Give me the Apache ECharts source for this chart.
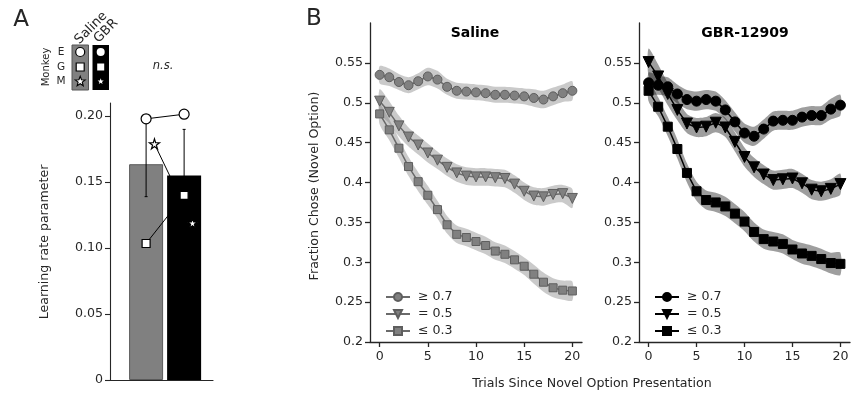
<!DOCTYPE html>
<html>
<head>
<meta charset="utf-8">
<script src="https://cdn.jsdelivr.net/npm/echarts@6.0.0/dist/echarts.min.js"></script>
<style>
  html, body { margin: 0; padding: 0; background: #fff; }
  #main { width: 851px; height: 397px; }
</style>
</head>
<body>
<div id="main"></div>
<script>
// panel A: learning rate per condition
const conditions = ['Saline', 'GBR']
const barMeans = [0.1636, 0.155]
const barErrLow = [0.139, 0.12]
const barErrHigh = [0.197, 0.19]
const monkeyE = [0.198, 0.2015]
const monkeyG = [0.1035, 0.140]
const monkeyM = [0.179, 0.119]
const aTicks = [0, 0.05, 0.10, 0.15, 0.20]

// panel B: fraction chose novel option
const trials = [0, 1, 2, 3, 4, 5, 6, 7, 8, 9, 10, 11, 12, 13, 14, 15, 16, 17, 18, 19, 20]
const bTicksX = [0, 5, 10, 15, 20]
const bTicksY = [0.2, 0.25, 0.3, 0.35, 0.4, 0.45, 0.5, 0.55]
const groupNames = ['≥ 0.7', '= 0.5', '≤ 0.3']

const salHigh = [0.535, 0.532, 0.526, 0.522, 0.527, 0.533, 0.529, 0.520, 0.515, 0.514, 0.513, 0.512, 0.510, 0.510, 0.509, 0.508, 0.506, 0.504, 0.508, 0.512, 0.515]
const salMid = [0.502, 0.488, 0.471, 0.457, 0.447, 0.437, 0.428, 0.419, 0.412, 0.408, 0.407, 0.407, 0.406, 0.405, 0.398, 0.389, 0.383, 0.382, 0.385, 0.386, 0.380]
const salLow = [0.486, 0.466, 0.443, 0.420, 0.401, 0.384, 0.366, 0.347, 0.335, 0.331, 0.326, 0.321, 0.314, 0.310, 0.303, 0.295, 0.285, 0.275, 0.268, 0.265, 0.264]
const salHighErr = [0.011, 0.011, 0.010, 0.010, 0.010, 0.011, 0.011, 0.010, 0.010, 0.010, 0.010, 0.010, 0.010, 0.010, 0.010, 0.010, 0.011, 0.011, 0.011, 0.011, 0.012]
const salMidErr = [0.015, 0.014, 0.013, 0.012, 0.012, 0.012, 0.011, 0.011, 0.011, 0.011, 0.011, 0.011, 0.011, 0.011, 0.011, 0.011, 0.011, 0.011, 0.011, 0.011, 0.012]
const salLowErr = [0.013, 0.013, 0.012, 0.012, 0.012, 0.012, 0.011, 0.011, 0.011, 0.011, 0.011, 0.011, 0.011, 0.011, 0.011, 0.011, 0.012, 0.012, 0.012, 0.012, 0.012]

const gbrHigh = [0.525, 0.522, 0.520, 0.511, 0.504, 0.502, 0.504, 0.502, 0.491, 0.476, 0.462, 0.458, 0.467, 0.477, 0.478, 0.478, 0.482, 0.484, 0.484, 0.492, 0.497]
const gbrMid = [0.551, 0.533, 0.511, 0.491, 0.474, 0.469, 0.470, 0.475, 0.469, 0.451, 0.432, 0.419, 0.410, 0.403, 0.404, 0.405, 0.399, 0.391, 0.389, 0.392, 0.398]
const gbrLow = [0.515, 0.495, 0.470, 0.442, 0.412, 0.389, 0.378, 0.375, 0.370, 0.361, 0.351, 0.338, 0.329, 0.326, 0.323, 0.316, 0.311, 0.308, 0.304, 0.299, 0.298]
const gbrHighErr = [0.013, 0.012, 0.012, 0.012, 0.012, 0.012, 0.012, 0.012, 0.012, 0.012, 0.012, 0.012, 0.012, 0.012, 0.012, 0.012, 0.012, 0.012, 0.012, 0.013, 0.013]
const gbrMidErr = [0.017, 0.015, 0.014, 0.013, 0.012, 0.012, 0.012, 0.012, 0.012, 0.012, 0.012, 0.012, 0.012, 0.012, 0.012, 0.012, 0.012, 0.012, 0.012, 0.012, 0.013]
const gbrLowErr = [0.013, 0.012, 0.012, 0.012, 0.012, 0.012, 0.012, 0.012, 0.012, 0.012, 0.012, 0.012, 0.012, 0.012, 0.012, 0.012, 0.013, 0.013, 0.013, 0.013, 0.014]

const FONT = 'DejaVu Sans'
const FS = 12.6
const AXIS = '#262626'
const TEXT = '#262626'
const starPath = 'path://M50,0L61,35L98,35L68,57L79,91L50,70L21,91L32,57L2,35L39,35Z'
const triDown = 'path://M0,0L10,0L5,9Z'
const starOffset = 0.22

const chart = echarts.init(document.getElementById('main'), null, { renderer: 'canvas' })

function starPoints(cx, cy, r) {
  const pts = []
  for (let i = 0; i < 10; i++) {
    const rr = i % 2 === 0 ? r : r * 0.42
    const a = -Math.PI / 2 + i * Math.PI / 5
    pts.push([cx + rr * Math.cos(a), cy + rr * Math.sin(a)])
  }
  return pts
}

// shaded band (mean +/- err) drawn as one polygon through the axes
function bandSeries(mean, err, gridIdx, fill) {
  const rows = trials.map((t, i) => [t, mean[i] - err[i], mean[i] + err[i]])
  return {
    type: 'custom',
    xAxisIndex: gridIdx,
    yAxisIndex: gridIdx,
    silent: true,
    z: 1,
    data: rows,
    encode: { x: 0, y: [1, 2] },
    renderItem: function (params, api) {
      if (params.dataIndex !== 0) return null
      const upper = rows.map(r => api.coord([r[0], r[2]]))
      const lower = rows.map(r => api.coord([r[0], r[1]])).reverse()
      return {
        type: 'polygon',
        shape: { points: upper.concat(lower), smooth: 0.25 },
        style: { fill: fill, stroke: null }
      }
    }
  }
}

function lineSeries(name, mean, gridIdx, symbol, size, color, edge, lineColor) {
  return {
    name: name,
    type: 'line',
    xAxisIndex: gridIdx,
    yAxisIndex: gridIdx,
    z: 3,
    data: trials.map((t, i) => [t, mean[i]]),
    symbol: symbol,
    symbolSize: size,
    showAllSymbol: true,
    itemStyle: { color: color, borderColor: edge, borderWidth: 1 },
    lineStyle: { color: lineColor, width: 1.5 },
    emphasis: { disabled: true }
  }
}

function bAxisX(idx) {
  return {
    gridIndex: idx, type: 'value', min: -1, max: 21,
    axisLine: { show: true, onZero: false, lineStyle: { color: AXIS, width: 1.3 } },
    axisTick: { show: true, length: 5, customValues: bTicksX, lineStyle: { color: AXIS, width: 1.3 } },
    axisLabel: { customValues: bTicksX, color: TEXT, fontFamily: FONT, fontSize: FS, margin: 8 },
    splitLine: { show: false }
  }
}
function bAxisY(idx) {
  return {
    gridIndex: idx, type: 'value', min: 0.2, max: 0.6,
    axisLine: { show: true, onZero: false, lineStyle: { color: AXIS, width: 1.3 } },
    axisTick: { show: true, length: 5, customValues: bTicksY, lineStyle: { color: AXIS, width: 1.3 } },
    axisLabel: { customValues: bTicksY, color: TEXT, fontFamily: FONT, fontSize: FS, margin: 7 },
    splitLine: { show: false }
  }
}

const salShapes = ['circle', triDown, 'rect']
const salSizes = [9, 10, 8]
const gbrSizes = [10, 11, 9]
const salMeans = [salHigh, salMid, salLow]
const salErrs = [salHighErr, salMidErr, salLowErr]
const gbrMeans = [gbrHigh, gbrMid, gbrLow]
const gbrErrs = [gbrHighErr, gbrMidErr, gbrLowErr]

const series = []

// panel A bars
series.push({
  type: 'bar',
  xAxisIndex: 0, yAxisIndex: 0,
  barWidth: 34,
  z: 1,
  data: conditions.map((c, i) => ({
    value: [i, barMeans[i]],
    itemStyle: i === 0
      ? { color: '#808080', borderColor: '#5a5a5a', borderWidth: 1 }
      : { color: '#000000' }
  }))
})
// panel A error bars
series.push({
  type: 'custom',
  xAxisIndex: 0, yAxisIndex: 0,
  z: 2,
  data: conditions.map((c, i) => [i, barErrLow[i], barErrHigh[i]]),
  encode: { x: 0, y: [1, 2] },
  renderItem: function (params, api) {
    const lo = api.coord([api.value(0), api.value(1)])
    const hi = api.coord([api.value(0), api.value(2)])
    const st = { stroke: '#000', lineWidth: 1 }
    return {
      type: 'group',
      children: [
        { type: 'line', shape: { x1: lo[0], y1: lo[1], x2: hi[0], y2: hi[1] }, style: st },
        { type: 'line', shape: { x1: lo[0] - 1.5, y1: lo[1], x2: lo[0] + 1.5, y2: lo[1] }, style: st },
        { type: 'line', shape: { x1: hi[0] - 1.5, y1: hi[1], x2: hi[0] + 1.5, y2: hi[1] }, style: st }
      ]
    }
  }
})
// panel A monkeys
const monkeyDefs = [
  { vals: monkeyE, symbol: 'circle', size: 10, dx: 0 },
  { vals: monkeyG, symbol: 'rect', size: 8, dx: 0 },
  { vals: monkeyM, symbol: starPath, size: 10, dx: starOffset }
]
monkeyDefs.forEach(m => {
  series.push({
    type: 'line',
    xAxisIndex: 0, yAxisIndex: 0,
    z: 3,
    data: conditions.map((c, i) => [i + m.dx, m.vals[i]]),
    symbol: m.symbol,
    symbolSize: m.size,
    itemStyle: { color: '#ffffff', borderColor: '#000000', borderWidth: 1.2 },
    lineStyle: { color: '#000000', width: 1 },
    emphasis: { disabled: true }
  })
})

// panel B bands and lines
for (let k = 0; k < 3; k++) {
  series.push(bandSeries(salMeans[k], salErrs[k], 1, 'rgba(128,128,128,0.42)'))
  series.push(bandSeries(gbrMeans[k], gbrErrs[k], 2, 'rgba(0,0,0,0.38)'))
}
for (let k = 0; k < 3; k++) {
  series.push(lineSeries('Saline ' + groupNames[k], salMeans[k], 1, salShapes[k], salSizes[k], '#808080', '#5e5e5e', '#6a6a6a'))
  series.push(lineSeries('GBR ' + groupNames[k], gbrMeans[k], 2, salShapes[k], gbrSizes[k], '#000000', '#000000', '#000000'))
}

const legendBase = {
  orient: 'vertical',
  itemWidth: 24,
  itemHeight: 10,
  itemGap: 3,
  selectedMode: false,
  formatter: name => name.replace(/^(Saline|GBR) /, ''),
  textStyle: { color: TEXT, fontFamily: FONT, fontSize: FS, lineHeight: 14, padding: [0, 0, 0, 3] }
}

const txt = (x, y, text, size) => ({
  type: 'text', x: x, y: y,
  style: { text: text, fill: TEXT, font: size + 'px "' + FONT + '"', align: 'center', verticalAlign: 'middle' }
})

const graphic = [
  txt(21, 20, 'A', 23),
  txt(314, 19, 'B', 23),
  { type: 'text', x: 475, y: 33, style: { text: 'Saline', fill: '#000', font: 'bold 14px "' + FONT + '"', align: 'center', verticalAlign: 'middle' } },
  { type: 'text', x: 745, y: 33, style: { text: 'GBR-12909', fill: '#000', font: 'bold 14px "' + FONT + '"', align: 'center', verticalAlign: 'middle' } },
  txt(592, 384, 'Trials Since Novel Option Presentation', FS),
  { type: 'text', x: 315, y: 186, rotation: Math.PI / 2, style: { text: 'Fraction Chose (Novel Option)', fill: TEXT, font: FS + 'px "' + FONT + '"', align: 'center', verticalAlign: 'middle' } },
  { type: 'text', x: 45, y: 242, rotation: Math.PI / 2, style: { text: 'Learning rate parameter', fill: TEXT, font: FS + 'px "' + FONT + '"', align: 'center', verticalAlign: 'middle' } },
  { type: 'text', x: 163, y: 66, style: { text: 'n.s.', fill: TEXT, font: 'italic 11.5px "' + FONT + '"', align: 'center', verticalAlign: 'middle' } },
  // monkey key
  { type: 'text', x: 46, y: 67, rotation: Math.PI / 2, style: { text: 'Monkey', fill: TEXT, font: '10px "' + FONT + '"', align: 'center', verticalAlign: 'middle' } },
  txt(61, 52, 'E', 10.5), txt(61, 67, 'G', 10.5), txt(61, 81, 'M', 10.5),
  { type: 'text', x: 91, y: 28, rotation: Math.PI / 4, style: { text: 'Saline', fill: TEXT, font: '13px "' + FONT + '"', align: 'center', verticalAlign: 'middle' } },
  { type: 'text', x: 106, y: 31, rotation: Math.PI / 4, style: { text: 'GBR', fill: TEXT, font: '13px "' + FONT + '"', align: 'center', verticalAlign: 'middle' } },
  { type: 'rect', shape: { x: 72, y: 45, width: 16.5, height: 45 }, style: { fill: '#808080', stroke: '#555', lineWidth: 1 } },
  { type: 'rect', shape: { x: 92.5, y: 45, width: 16.5, height: 45 }, style: { fill: '#000' } },
  { type: 'circle', shape: { cx: 80.2, cy: 52, r: 4.5 }, style: { fill: '#fff', stroke: '#000', lineWidth: 1.2 } },
  { type: 'rect', shape: { x: 76.2, y: 63, width: 8, height: 8 }, style: { fill: '#fff', stroke: '#000', lineWidth: 1.2 } },
  { type: 'polygon', shape: { points: starPoints(80.2, 81.5, 5.2) }, style: { fill: '#fff', stroke: '#000', lineWidth: 1.1 } },
  { type: 'circle', shape: { cx: 100.7, cy: 52, r: 4 }, style: { fill: '#fff' } },
  { type: 'rect', shape: { x: 97.2, y: 63.5, width: 7, height: 7 }, style: { fill: '#fff' } },
  { type: 'polygon', shape: { points: starPoints(100.7, 81.5, 3.2) }, style: { fill: '#fff' } }
]

const option = {
  animation: false,
  backgroundColor: '#ffffff',
  textStyle: { fontFamily: FONT },
  grid: [
    { left: 110, top: 103, width: 103, height: 277, outerBoundsMode: 'none' },
    { left: 370, top: 23, width: 212, height: 319, outerBoundsMode: 'none' },
    { left: 639, top: 23, width: 211, height: 319, outerBoundsMode: 'none' }
  ],
  xAxis: [
    {
      gridIndex: 0, type: 'value', min: -0.95, max: 1.76,
      axisLine: { show: true, onZero: false, lineStyle: { color: AXIS, width: 1.1 } },
      axisTick: { show: false }, axisLabel: { show: false }, splitLine: { show: false }
    },
    bAxisX(1), bAxisX(2)
  ],
  yAxis: [
    {
      gridIndex: 0, type: 'value', min: 0, max: 0.21,
      axisLine: { show: true, onZero: false, lineStyle: { color: AXIS, width: 1.1 } },
      axisTick: { show: true, length: 5, customValues: aTicks, lineStyle: { color: AXIS, width: 1.1 } },
      axisLabel: {
        customValues: aTicks, color: TEXT, fontFamily: FONT, fontSize: FS, margin: 7,
        formatter: v => v === 0 ? '0' : v.toFixed(2)
      },
      splitLine: { show: false }
    },
    bAxisY(1), bAxisY(2)
  ],
  legend: [
    Object.assign({ left: 380, top: 285, data: groupNames.map(n => 'Saline ' + n) }, legendBase),
    Object.assign({ left: 649, top: 285, data: groupNames.map(n => 'GBR ' + n) }, legendBase)
  ],
  graphic: graphic,
  series: series
}

chart.setOption(option)
</script>
</body>
</html>
